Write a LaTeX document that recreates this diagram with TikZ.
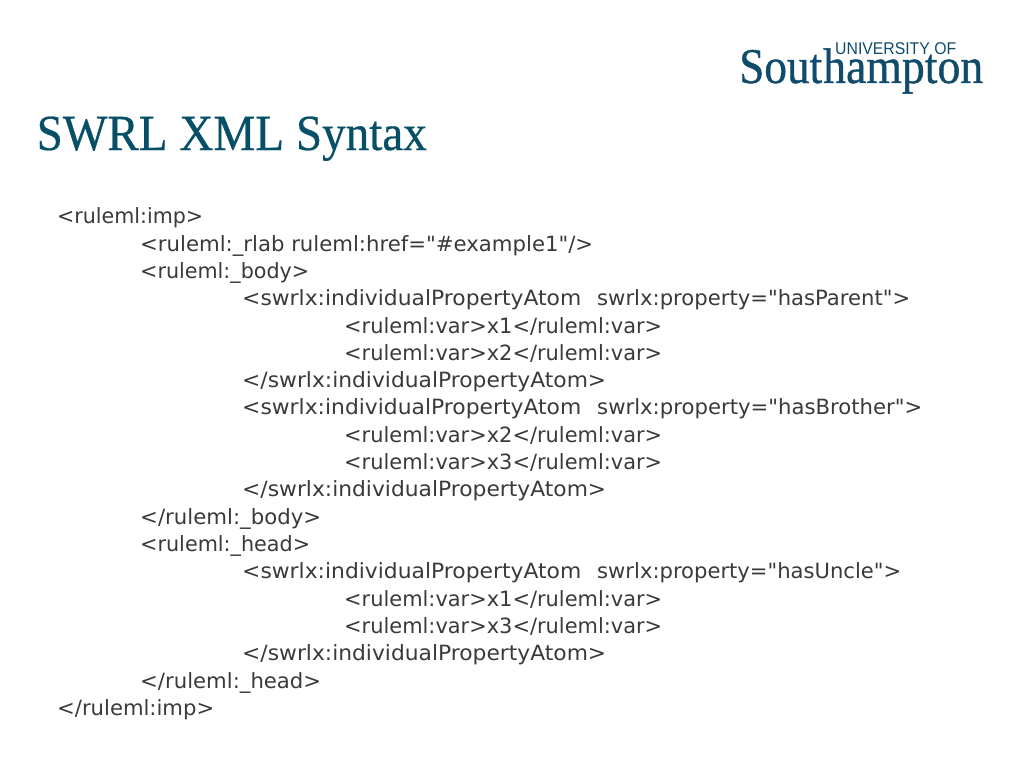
\documentclass[tikz,border=0pt]{standalone}
\usepackage{fontspec}
\usepackage{graphicx}
\newfontfamily\xmlfont{DejaVu Sans}
\newfontfamily\titlefont[FakeBold=0.5]{Liberation Serif}
\newfontfamily\logofont[FakeBold=0.8]{Liberation Serif}
\newfontfamily\logosans{Liberation Sans}
\definecolor{teal}{HTML}{074F66}
\definecolor{logoblue}{HTML}{0F4C6B}
\definecolor{txt}{HTML}{3A3A3A}
\newcommand{\fitw}[2]{\resizebox{#1pt}{\height}{#2}}
\newcommand{\atomline}[2]{\fitw{339}{<swrlx:individualPropertyAtom}\hspace{16pt}\fitw{#1}{swrlx:property="#2">}}
\tikzset{
  xmlline/.style={anchor=base west,inner sep=0pt,text=txt,font=\xmlfont\fontsize{21}{24}\selectfont},
  plainline/.style={anchor=base west,inner sep=0pt}
}
\begin{document}
\begin{tikzpicture}[x=1pt,y=-1pt]
\useasboundingbox[fill=white] (0,0) rectangle (1024,768);
\node[plainline,text=teal,font=\titlefont] (title) at (36.5,150) {\resizebox{390pt}{33.5pt}{SWRL XML Syntax}};
\node[plainline,text=logoblue,font=\logosans\fontsize{17}{20}\selectfont] (logoa) at (835,55) {\fitw{121}{UNIVERSITY OF}};
\node[plainline,text=logoblue,font=\logofont\fontsize{50}{54}\selectfont] (logob) at (739,83) {\fitw{83}{Sout}\hspace{1pt}\fitw{160}{hampton}};
\node[xmlline] (l1) at (57,223) {\fitw{146}{<ruleml:imp>}};
\node[xmlline] (l2) at (140,251) {\fitw{453}{<ruleml:\_rlab ruleml:href="\#example1"/>}};
\node[xmlline] (l3) at (140,278) {\fitw{169}{<ruleml:\_body>}};
\node[xmlline] (l4) at (242,305) {\atomline{313}{hasParent}};
\node[xmlline] (l5) at (344,333) {\fitw{318}{<ruleml:var>x1</ruleml:var>}};
\node[xmlline] (l6) at (344,360) {\fitw{318}{<ruleml:var>x2</ruleml:var>}};
\node[xmlline] (l7) at (242,387) {\fitw{364}{</swrlx:individualPropertyAtom>}};
\node[xmlline] (l8) at (242,414) {\atomline{325}{hasBrother}};
\node[xmlline] (l9) at (344,442) {\fitw{318}{<ruleml:var>x2</ruleml:var>}};
\node[xmlline] (l10) at (344,469) {\fitw{318}{<ruleml:var>x3</ruleml:var>}};
\node[xmlline] (l11) at (242,496) {\fitw{364}{</swrlx:individualPropertyAtom>}};
\node[xmlline] (l12) at (140,524) {\fitw{181}{</ruleml:\_body>}};
\node[xmlline] (l13) at (140,551) {\fitw{170}{<ruleml:\_head>}};
\node[xmlline] (l14) at (242,578) {\atomline{304}{hasUncle}};
\node[xmlline] (l15) at (344,606) {\fitw{318}{<ruleml:var>x1</ruleml:var>}};
\node[xmlline] (l16) at (344,633) {\fitw{318}{<ruleml:var>x3</ruleml:var>}};
\node[xmlline] (l17) at (242,660) {\fitw{364}{</swrlx:individualPropertyAtom>}};
\node[xmlline] (l18) at (140,688) {\fitw{181}{</ruleml:\_head>}};
\node[xmlline] (l19) at (57,715) {\fitw{157}{</ruleml:imp>}};
\end{tikzpicture}
\end{document}
